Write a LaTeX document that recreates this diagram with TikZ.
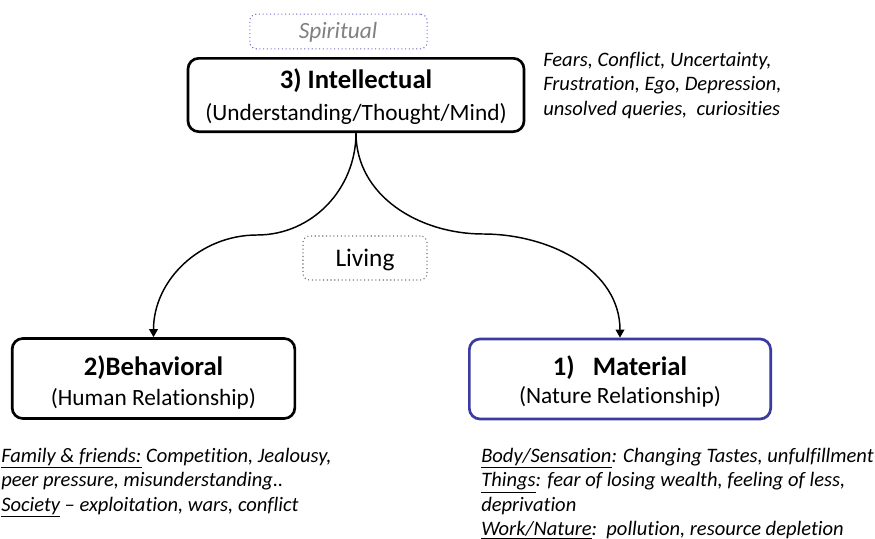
\documentclass[tikz,border=0pt]{standalone}
\usepackage{fontspec}
\setmainfont{Carlito}[Ligatures=NoCommon]
\usetikzlibrary{arrows.meta}

\definecolor{matblue}{RGB}{58,58,160}
\definecolor{spblue}{RGB}{110,110,200}
\definecolor{sptext}{RGB}{128,128,128}
\definecolor{livgray}{RGB}{110,110,110}

\tikzset{
  x=0.75pt, y=-0.75pt,
  levelbox/.style={draw=black, line width=2pt, rounded corners=8pt, inner sep=0pt},
  leveltitle/.style={inner sep=0pt, anchor=base, font=\fontsize{20}{24}\selectfont\bfseries},
  levelsub/.style={inner sep=0pt, anchor=base, font=\fontsize{17.5}{21}\selectfont},
  tagbox/.style={rounded corners=5pt, dotted, line width=0.8pt, inner sep=0pt},
  notes/.style={inner sep=0pt, align=left, anchor=north west,
    font=\fontsize{15.4}{18.3}\selectfont\itshape},
  conn/.style={draw=black, line width=1.1pt, -{Triangle[width=6.5pt,length=6pt]}},
}

\begin{document}
\begin{tikzpicture}
\useasboundingbox (0,0) rectangle (875,539);

% level boxes
\node[levelbox, minimum width=252pt, minimum height=55pt] (intel) at (356,95) {};
\node[leveltitle] (intel-title) at (356,88) {3) Intellectual};
\node[levelsub] (intel-sub) at (356,120) {(Understanding/Thought/Mind)};

\node[levelbox, minimum width=212pt, minimum height=60pt] (behav) at (153.5,378.5) {};
\node[leveltitle] (behav-title) at (153.5,375) {2)Behavioral};
\node[levelsub] (behav-sub) at (153.5,405) {(Human Relationship)};

\node[levelbox, draw=matblue, minimum width=226pt, minimum height=60pt] (mat) at (620,379) {};
\node[leveltitle] (mat-title) at (620,375) {1)\ \ \ Material};
\node[levelsub] (mat-sub) at (620,403) {(Nature Relationship)};

% tags
\node[tagbox, draw=spblue, minimum width=133pt, minimum height=26pt] (spirit) at (338.5,31.5) {};
\node[inner sep=0pt, anchor=base, font=\fontsize{17.5}{20}\selectfont\itshape, text=sptext]
  (spirit-text) at (338,38) {Spiritual};
\node[tagbox, draw=livgray, minimum width=93pt, minimum height=33pt] (living) at (365,258) {};
\node[inner sep=0pt, anchor=base, font=\fontsize{19}{22}\selectfont]
  (living-text) at (365,266) {Living};

% connectors
\coordinate (lbend) at (257,235);
\coordinate (rbend) at (483,234);
\draw[conn] (intel.south) to[out=-90,in=0] (lbend) to[out=180,in=90] (behav.north);
\draw[conn] (intel.south) to[out=-90,in=180] (rbend) to[out=0,in=90] (mat.north);

% notes
\node[notes] (fears) at (543,52)
  {Fears, Conflict, Uncertainty,\\Frustration, Ego, Depression,\\unsolved queries,\ \ curiosities};
\node[notes] (bnotes) at (1,448)
  {\underline{Family \& friends:} Competition, Jealousy,\\peer pressure, misunderstanding..\\\underline{Society} – exploitation, wars, conflict};
\node[notes] (mnotes) at (481,448)
  {\underline{Body/Sensation}: Changing Tastes, unfulfillment\\\underline{Things}: fear of losing wealth, feeling of less,\\deprivation\\\underline{Work/Nature}:\ \ pollution, resource depletion};
\end{tikzpicture}
\end{document}
